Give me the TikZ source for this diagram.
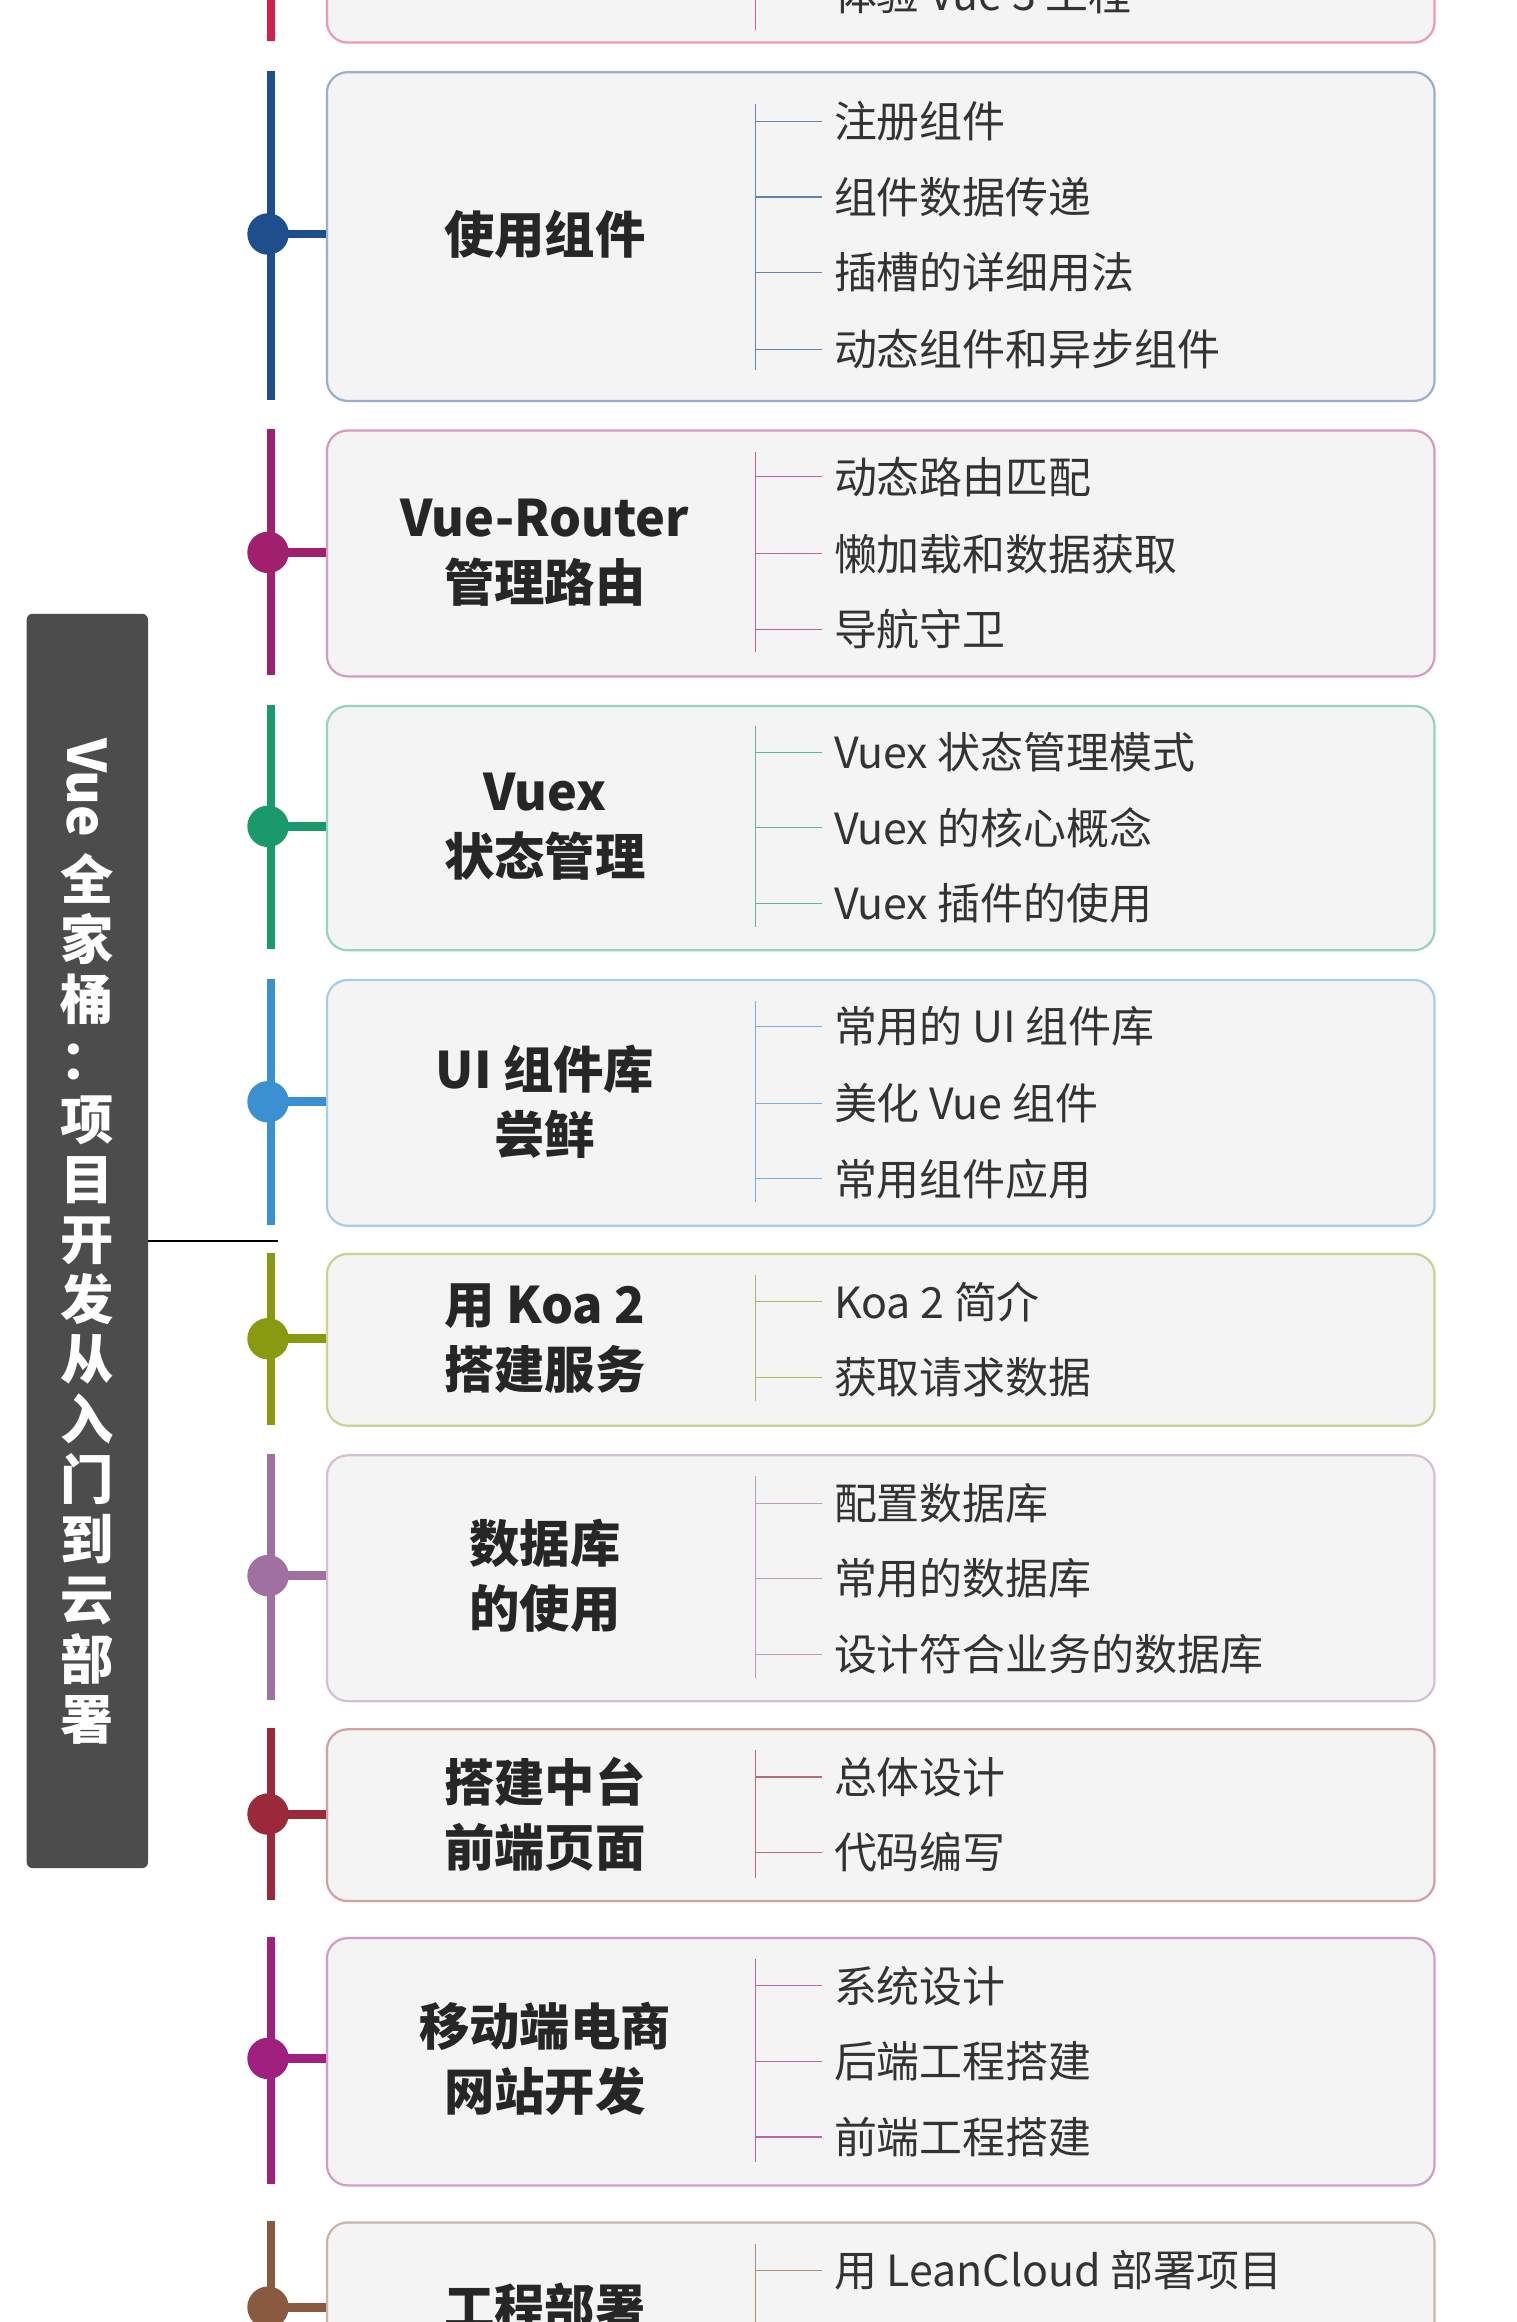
\documentclass[tikz,border=0pt]{standalone}
\usepackage{fontspec}
\setmainfont{Noto Sans CJK SC}
\usepackage{graphicx}
\begin{document}
\begin{tikzpicture}[x=1pt,y=-1pt,
  box/.style={draw=#1!45, line width=1.5pt, rounded corners=14pt, fill=gray!9},
  ttl/.style={font=\fontsize{34}{44}\selectfont\bfseries, align=center, text=black!85},
  itm/.style={font=\fontsize{29}{34}\selectfont, anchor=west, text=black!80, inner sep=0pt},
  tick/.style={draw=#1!70, line width=0.8pt}]
\useasboundingbox (0,0) rectangle (1024,1568);
\clip (0,0) rectangle (1024,1568);
\definecolor{c0}{HTML}{D0204A}
\definecolor{c1}{HTML}{1F4E8C}
\definecolor{c2}{HTML}{A0206E}
\definecolor{c3}{HTML}{1A9A6A}
\definecolor{c4}{HTML}{3A90D0}
\definecolor{c5}{HTML}{8A9A10}
\definecolor{c6}{HTML}{A070A0}
\definecolor{c7}{HTML}{9A2A3A}
\definecolor{c8}{HTML}{A02080}
\definecolor{c9}{HTML}{8A5A40}
% root
\node[fill=black!70, rounded corners=4pt, minimum width=82pt, minimum height=847pt, inner sep=0pt] (root) at (59,838) {};
\node[text=white, font=\fontsize{36}{40.5}\selectfont\bfseries, align=center, inner sep=0pt] (rt) at (59,838)
 {\rotatebox{-90}{Vue}\\[10pt]全\\家\\桶\\：\\项\\目\\开\\发\\从\\入\\门\\到\\云\\部\\署};
\coordinate (rj) at (188,838);
\draw[line width=2pt] (root.east |- rj) -- (rj);
\newcommand\sect[7]{%
  \draw[#1, line width=6pt] (183,#2) -- (183,#3);
  \node[box=#1, minimum width=748pt, minimum height=#3-#2, anchor=north west, inner sep=0pt] (b#7) at (220,#2) {};
  \fill[#1] (181,#4) circle (14);
  \draw[#1, line width=6pt] (181,#4) -- (b#7.west |- 0,#4);
  \node[ttl] (t#7) at (368,#4) {#5};
  \foreach \yy/\tt [count=\k] in {#6} {
    \draw[tick=#1] (510,\yy) -- (555,\yy);
    \node[itm] (i#7\k) at (563,\yy) {\tt};
  }
}
\sect{c0}{-200}{28}{-150}{}{-4/体验 Vue 3 工程}{0}
\draw[tick=c0] (510,-4) -- (510,20);
\sect{c1}{48}{270}{158}{使用组件}{82/注册组件,133/组件数据传递,184/插槽的详细用法,236/动态组件和异步组件}{1}
\draw[tick=c1] (510,70) -- (510,250);
\sect{c2}{290}{456}{373}{Vue-Router\\管理路由}{322/动态路由匹配,374/懒加载和数据获取,425/导航守卫}{2}
\draw[tick=c2] (510,305) -- (510,440);
\sect{c3}{476}{641}{558}{Vuex\\状态管理}{508/Vuex 状态管理模式,559/Vuex 的核心概念,610/Vuex 插件的使用}{3}
\draw[tick=c3] (510,490) -- (510,626);
\sect{c4}{661}{827}{744}{UI 组件库\\尝鲜}{693/常用的 UI 组件库,745/美化 Vue 组件,796/常用组件应用}{4}
\draw[tick=c4] (510,676) -- (510,812);
\sect{c5}{846}{962}{904}{用 Koa 2\\搭建服务}{879/Koa 2 简介,930/获取请求数据}{5}
\draw[tick=c5] (510,861) -- (510,946);
\sect{c6}{982}{1148}{1064}{数据库\\的使用}{1015/配置数据库,1066/常用的数据库,1117/设计符合业务的数据库}{6}
\draw[tick=c6] (510,997) -- (510,1133);
\sect{c7}{1167}{1283}{1225}{搭建中台\\前端页面}{1200/总体设计,1251/代码编写}{7}
\draw[tick=c7] (510,1182) -- (510,1268);
\sect{c8}{1308}{1475}{1390}{移动端电商\\网站开发}{1341/系统设计,1392/后端工程搭建,1443/前端工程搭建}{8}
\draw[tick=c8] (510,1323) -- (510,1460);
\sect{c9}{1500}{1700}{1558}{工程部署}{1533/用 LeanCloud 部署项目}{9}
\draw[tick=c9] (510,1515) -- (510,1600);
\end{tikzpicture}
\end{document}
